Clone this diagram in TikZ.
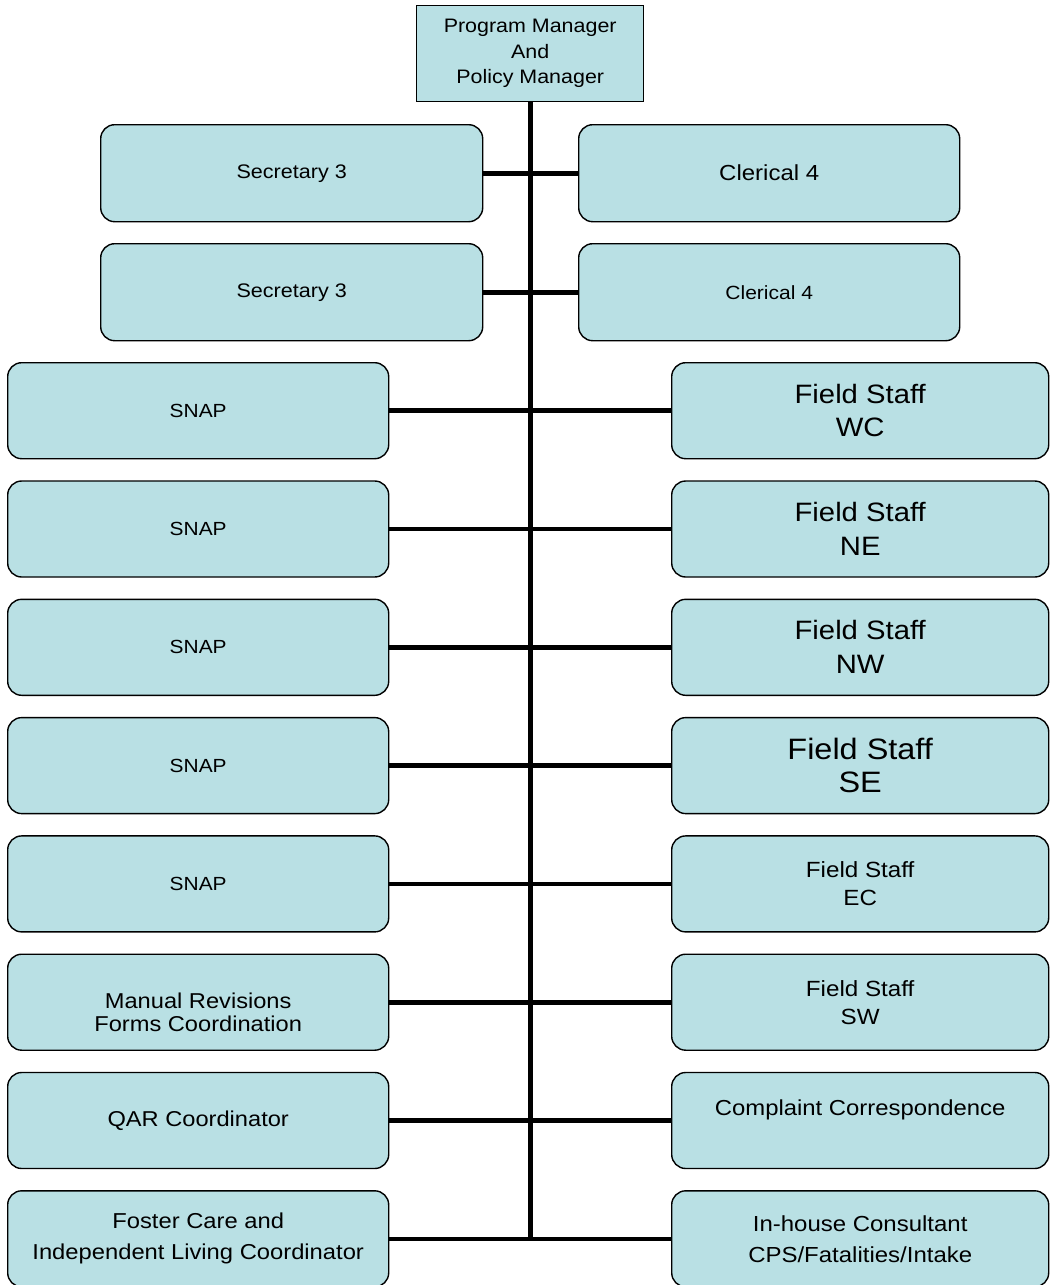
\documentclass[tikz,border=0pt]{standalone}
\usepackage{fontspec}
\setmainfont{Liberation Sans}[FakeStretch=1.1]
\definecolor{boxfill}{RGB}{185,224,228}
\newcommand\fsz[2]{\fontsize{#1pt}{#2pt}\selectfont}
\begin{document}
\begin{tikzpicture}[x=1pt,y=-1pt,
  unit/.style={draw=black, line width=1.4pt, fill=boxfill, rounded corners=14pt,
    inner sep=0pt, align=center, anchor=north west, text=black},
  lbox/.style={unit, minimum width=381pt, minimum height=96pt},
  rbox/.style={unit, minimum width=377pt, minimum height=96pt},
  caption/.style={inner sep=0pt, align=center, text=black},
  link/.style={line width=4.6pt, draw=black}]
\useasboundingbox (0,0) rectangle (1053,1285);

% head of the unit
\node[unit, sharp corners, minimum width=227pt, minimum height=96pt,
  font=\fsz{19.5}{25.5}] (head) at (416,5)
  {Program Manager\\And\\Policy Manager};

% support staff
\node[unit, minimum width=382pt, minimum height=97pt, font=\fsz{19.6}{24}] (sec1) at (100,124) {Secretary 3};
\node[unit, minimum width=381pt, minimum height=97pt, font=\fsz{21.8}{24}] (cle1) at (578,124) {Clerical 4};
\node[unit, minimum width=382pt, minimum height=97pt, font=\fsz{19.6}{24}] (sec2) at (100,243) {Secretary 3};
\node[unit, minimum width=381pt, minimum height=97pt, font=\fsz{19.1}{24}] (cle2) at (578,243) {Clerical 4};

% left column
\node[lbox, font=\fsz{19}{24}]     (l1) at (7,362)    {SNAP};
\node[lbox, font=\fsz{19}{24}]     (l2) at (7,480.3)  {SNAP};
\node[lbox, font=\fsz{19}{24}]     (l3) at (7,598.6)  {SNAP};
\node[lbox, font=\fsz{19}{24}]     (l4) at (7,716.9)  {SNAP};
\node[lbox, font=\fsz{19}{24}]     (l5) at (7,835.2)  {SNAP};
\node[lbox]                        (l6) at (7,953.5)  {};
\node[caption, font=\fsz{21.5}{23.5}] (l6text) at ([yshift=-10pt]l6.center) {Manual Revisions\\Forms Coordination};
\node[lbox, font=\fsz{21.5}{24}]   (l7) at (7,1071.8) {QAR Coordinator};
\node[lbox, font=\fsz{21.6}{31}]   (l8) at (7,1190.1) {Foster Care and\\Independent Living Coordinator};

% right column
\node[rbox, font=\fsz{26.6}{33}] (r1) at (671,362)    {Field Staff\\WC};
\node[rbox, font=\fsz{26.6}{34}] (r2) at (671,480.3)  {Field Staff\\NE};
\node[rbox, font=\fsz{26.6}{34}] (r3) at (671,598.6)  {Field Staff\\NW};
\node[rbox, font=\fsz{29.5}{33}] (r4) at (671,716.9)  {Field Staff\\SE};
\node[rbox, font=\fsz{22}{28}]   (r5) at (671,835.2)  {Field Staff\\EC};
\node[rbox, font=\fsz{22}{28}]   (r6) at (671,953.5)  {Field Staff\\SW};
\node[rbox, font=\fsz{21.7}{25}] (r7) at (671,1071.8) {Complaint Correspondence\\\mbox{}};
\node[rbox, font=\fsz{21.8}{31}] (r8) at (671,1190.1) {In-house Consultant\\CPS/Fatalities/Intake};

% vertical trunk
\coordinate (trunkend) at (head.south |- l8.east);
\draw[link] (head.south) -- (trunkend);

% branches
\draw[link] (sec1.east) -- (cle1.west);
\draw[link] (sec2.east) -- (cle2.west);
\foreach \i in {1,...,8} {
  \draw[link] (l\i.east) -- (r\i.west);
}
\end{tikzpicture}
\end{document}
